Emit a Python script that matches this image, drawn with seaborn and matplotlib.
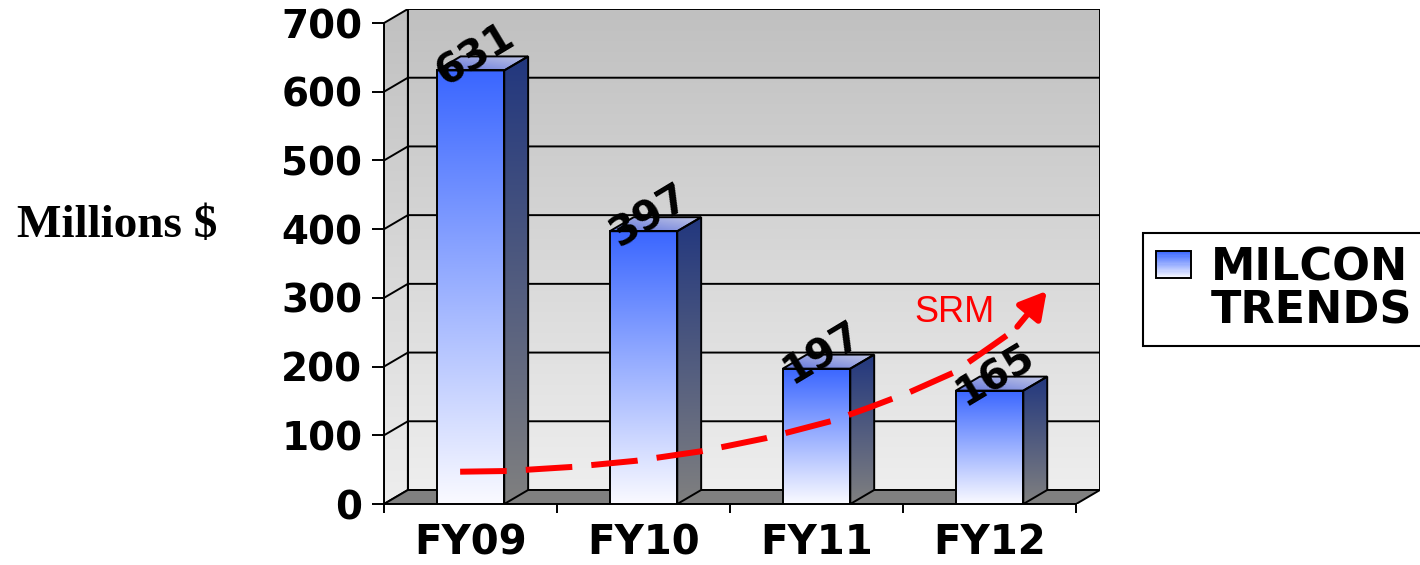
import matplotlib.pyplot as plt
import numpy as np
import seaborn as sns
from matplotlib.legend_handler import HandlerBase
from matplotlib.patches import Polygon, Rectangle


sns.set_theme(
    style="ticks",
    rc={
        "axes.edgecolor": "black",
        "xtick.color": "black",
        "ytick.color": "black",
        "text.color": "black",
    },
)
plt.rcParams.update({"font.family": ["DejaVu Sans"], "font.weight": "bold"})


years = ["FY09", "FY10", "FY11", "FY12"]
milcon = [631, 397, 197, 165]
y_ticks = [0, 100, 200, 300, 400, 500, 600, 700]

# SRM trend arrow (drawn by hand on the slide)
srm_x = [-0.06, 0.21, 0.59, 0.96, 1.34, 1.71, 2.09, 2.30, 2.54, 2.79, 2.99, 3.12]
srm_y = [47, 48, 54, 63, 77, 96, 121, 140, 163, 191, 226, 249]
srm_head_from = (3.16, 258)
srm_head_to = (3.33, 310)
srm_label_xy = (2.80, 279)

# colours
wall_top, wall_bottom = "#c0c0c0", "#eeeeee"
front_top, front_bottom = "#3a66ff", "#fafaff"
side_top, side_bottom = "#22377e", "#808080"
cap_front, cap_back = "#6275dc", "#c4c9e6"
floor_color = "#808080"

W, H = 1420, 565
DX, DY = 0.138, 20.4  # 3d depth in data units
LW = 1.4

fig = plt.figure(figsize=(W / 100, H / 100), dpi=100)
ax = fig.add_axes([384 / W, 1 - 504 / H, 716 / W, 495 / H])
ax.patch.set_visible(False)


def ramp(c0, c1, n=256, diag=False):
    a = np.array(plt.matplotlib.colors.to_rgb(c0))
    b = np.array(plt.matplotlib.colors.to_rgb(c1))
    t = np.linspace(0, 1, n)
    if diag:
        t = (t[:, None] + t[None, :]) / 2
        return a + (b - a) * t[..., None]
    return (a + (b - a) * t[:, None])[:, None, :]


def shaded(poly, extent, c_bot, c_top, z, diag=False, patch=None):
    if patch is None:
        patch = Polygon(poly, closed=True, facecolor="none", edgecolor="black",
                        lw=LW, zorder=z + 0.1)
        ax.add_patch(patch)
    img = ax.imshow(ramp(c_bot, c_top, diag=diag), extent=extent, origin="lower",
                    aspect="auto", interpolation="bilinear", zorder=z)
    img.set_clip_path(patch)
    return patch


# walls and floor
x_lo, x_hi = -0.5, len(years) - 0.5
top = y_ticks[-1]
shaded([(x_lo + DX, DY), (x_hi + DX, DY), (x_hi + DX, top + DY), (x_lo + DX, top + DY)],
       [x_lo + DX, x_hi + DX, DY, top + DY], wall_bottom, wall_top, 0)
shaded([(x_lo, 0), (x_lo, top), (x_lo + DX, top + DY), (x_lo + DX, DY)],
       [x_lo, x_lo + DX, 0, top + DY], wall_bottom, wall_top, 0)
ax.add_patch(Polygon([(x_lo, 0), (x_hi, 0), (x_hi + DX, DY), (x_lo + DX, DY)],
                     facecolor=floor_color, edgecolor="black", lw=LW, zorder=1))
for v in y_ticks[1:-1]:
    ax.plot([x_lo, x_lo + DX, x_hi + DX], [v, v + DY, v + DY],
            color="black", lw=LW, zorder=0.5)

# bars
sns.barplot(x=years, y=milcon, width=0.39, color="white", errorbar=None,
            edgecolor="black", linewidth=LW, ax=ax)
for p, v in zip(list(ax.patches)[-len(milcon):], milcon):
    x0, w, h = p.get_x(), p.get_width(), p.get_height()
    x1 = x0 + w
    p.set_facecolor("none")
    p.set_zorder(3.1)
    shaded(None, [x0, x1, 0, h], front_bottom, front_top, 3, patch=p)
    shaded([(x1, 0), (x1, h), (x1 + DX, h + DY), (x1 + DX, DY)],
           [x1, x1 + DX, 0, h + DY], side_bottom, side_top, 3)
    shaded([(x0, h), (x1, h), (x1 + DX, h + DY), (x0 + DX, h + DY)],
           [x0, x1 + DX, h, h + DY], cap_front, cap_back, 3, diag=True)
    ax.annotate(f"{v}", xy=(x0 + w / 2, h), xytext=(4, 11), textcoords="offset points",
                rotation=31, rotation_mode="anchor", ha="center", va="center",
                fontsize=29, fontweight="bold", zorder=6)

# SRM trend
ax.plot(srm_x, srm_y, color="#ff0000", lw=4.3, dashes=(7.8, 3.2),
        dash_capstyle="butt", solid_joinstyle="round", zorder=5)
ax.annotate("", xy=srm_head_to, xytext=srm_head_from,
            arrowprops=dict(arrowstyle="-|>,head_length=0.8,head_width=0.45",
                            color="#ff0000", lw=4.3, mutation_scale=20,
                            shrinkA=0, shrinkB=0), zorder=5)
ax.text(*srm_label_xy, "SRM", color="#ff0000", fontsize=26, fontweight="normal",
        family="Liberation Sans", ha="center", va="center", zorder=6)

# axes
ax.set_xlim(x_lo, x_hi + DX)
ax.set_ylim(0, top + DY)
ax.set_xlabel("")
ax.set_ylabel("")
for s in ["top", "right"]:
    ax.spines[s].set_visible(False)
ax.spines["left"].set_bounds(0, top)
ax.spines["bottom"].set_bounds(x_lo, x_hi)
ax.spines["left"].set_linewidth(LW)
ax.spines["bottom"].set_linewidth(LW)
ax.set_yticks(y_ticks)
ax.tick_params(axis="y", length=8.6, width=LW, pad=7, labelsize=28)
ax.set_xticks(range(len(years)))
ax.set_xticklabels(years)
ax.set_xticks(np.arange(len(years) + 1) - 0.5, minor=True)
ax.tick_params(axis="x", which="major", length=0, pad=14, labelsize=29)
ax.tick_params(axis="x", which="minor", length=6.5, width=LW)

fig.text(117 / W, 1 - 237 / H, "Millions $", family="Liberation Serif",
         weight="bold", fontsize=34, ha="center", va="baseline")


# legend
class GradientHandler(HandlerBase):
    def create_artists(self, legend, orig_handle, xdescent, ydescent, width,
                       height, fontsize, trans):
        n = 24
        cols = ramp(front_bottom, front_top, n)[:, 0, :]
        arts = [Rectangle((-xdescent, -ydescent + height * i / n), width, height / n,
                          facecolor=cols[i], edgecolor="none", transform=trans)
                for i in range(n)]
        arts.append(Rectangle((-xdescent, -ydescent), width, height, fill=False,
                              edgecolor="black", lw=LW, transform=trans))
        return arts


proxy = Rectangle((0, 0), 1, 1)
blank = Rectangle((0, 0), 1, 1, facecolor="none", edgecolor="none")
leg = fig.legend(handles=[proxy, blank], labels=["MILCON", "TRENDS"],
                 handler_map={proxy: GradientHandler()},
                 loc="upper left", bbox_to_anchor=(1143 / W, 1 - 233 / H),
                 borderaxespad=0, prop={"weight": "bold", "size": 32},
                 fancybox=False, framealpha=1, edgecolor="black",
                 handlelength=0.78, handleheight=0.58, handletextpad=0.45,
                 borderpad=0.3, labelspacing=0.0)
leg.get_frame().set_linewidth(1.5)

plt.savefig("out.png", dpi=100)
